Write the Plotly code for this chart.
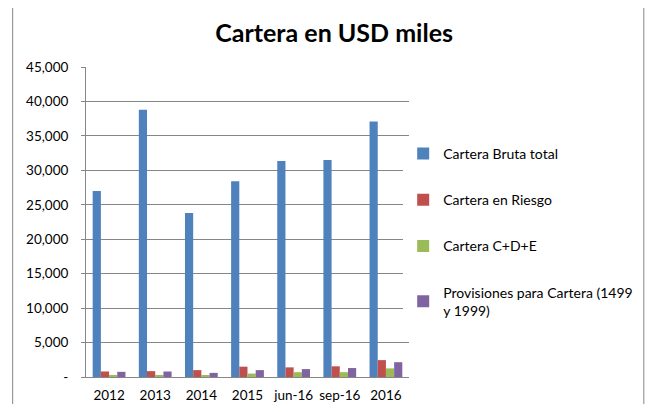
import plotly.graph_objects as go

categories = ["2012", "2013", "2014", "2015", "jun-16", "sep-16", "2016"]
bruta_total = [27000, 38800, 23800, 28400, 31350, 31500, 37100]
en_riesgo = [800, 850, 1000, 1500, 1400, 1550, 2450]
cde = [300, 300, 250, 500, 700, 700, 1250]
provisiones = [750, 800, 600, 1000, 1150, 1300, 2150]

series_names = [
    "Cartera Bruta total",
    "Cartera en Riesgo",
    "Cartera C+D+E",
    "Provisiones para Cartera (1499<br>y 1999)",
]
colors = ["#4F81BD", "#C0504D", "#9BBB59", "#8064A2"]

y_ticks = [0, 5000, 10000, 15000, 20000, 25000, 30000, 35000, 40000, 45000]
y_labels = ["-", "5,000", "10,000", "15,000", "20,000", "25,000",
            "30,000", "35,000", "40,000", "45,000"]

fig = go.Figure()
for i, (name, vals, col) in enumerate(zip(series_names, [bruta_total, en_riesgo, cde, provisiones], colors)):
    fig.add_trace(go.Bar(
        x=categories, y=vals, name=name, marker_color=col,
        marker_line_width=0, legendgroup=str(i),
    ))

# page body has an 8px margin, so the figure is sized/offset to fit without scrolling
fig.update_layout(
    width=642, height=396,
    margin=dict(l=78, r=238, t=59, b=27),
    paper_bgcolor="white", plot_bgcolor="white",
    font=dict(family="Lato, Open Sans, sans-serif", size=13, color="#000"),
    title=dict(text="<b>Cartera en USD miles</b>", x=0.508, xanchor="center",
               y=0.937, yanchor="middle", font=dict(size=25)),
    barmode="group", bargap=0.29, bargroupgap=0,
    legend=dict(x=0.982, y=0.771, xanchor="left", yanchor="top",
                traceorder="grouped", tracegroupgap=25,
                font=dict(size=14), itemwidth=30),
    xaxis=dict(showline=True, linecolor="#868686", ticks="", automargin=False,
               ticklabelstandoff=6, tickfont=dict(size=13.5)),
    yaxis=dict(range=[0, 45000], tickvals=y_ticks, ticktext=y_labels,
               showgrid=True, gridcolor="#868686", gridwidth=1, automargin=False,
               showline=True, linecolor="#868686", ticks="outside",
               ticklen=4, tickcolor="#868686", ticklabelstandoff=10,
               tickfont=dict(size=13.5)),
)

fig.add_shape(type="rect", xref="paper", yref="paper",
              x0=-0.227, x1=1.727, y0=-0.5, y1=1.5,
              line=dict(color="#868686", width=1))

fig.write_html("out.html")
